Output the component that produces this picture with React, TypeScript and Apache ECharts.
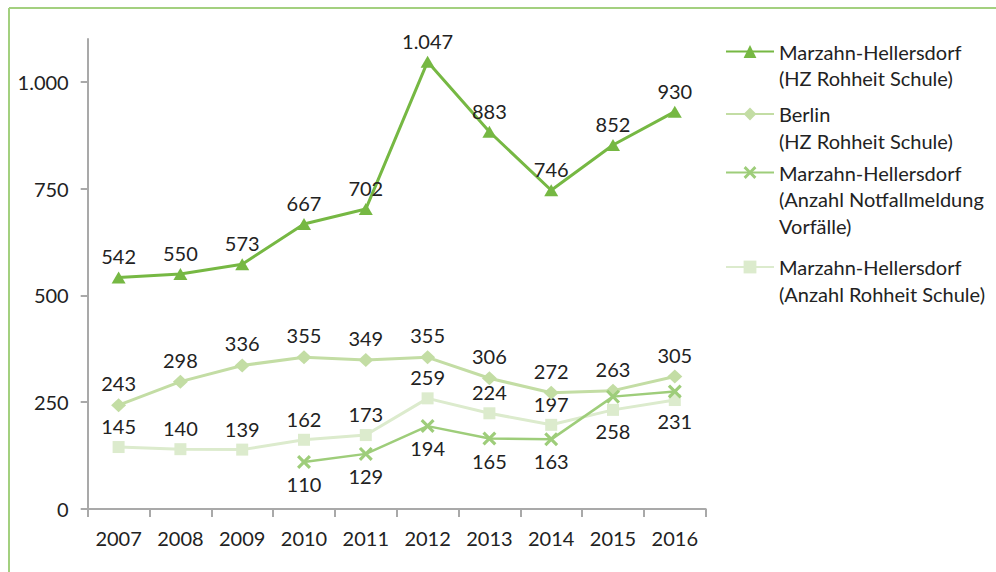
import React, { useEffect, useRef } from "react";
import * as echarts from "echarts";

const years = ["2007", "2008", "2009", "2010", "2011", "2012", "2013", "2014", "2015", "2016"];

const hzMarzahn = [542, 550, 573, 667, 702, 1047, 883, 746, 852, 930];
const hzBerlin = [243, 298, 336, 355, 349, 355, 306, 272, 277, 310];
const notfallMarzahn = [null, null, null, 110, 129, 194, 165, 163, 263, 275];
const rohheitMarzahn = [145, 140, 139, 162, 173, 259, 224, 197, 232, 255];

// label texts as printed in the reference (null = no label)
const hzBerlinLabels = ["243", "298", "336", "355", "349", "355", "306", "272", "263", "305"];
const notfallLabels = [null, null, null, "110", "129", "194", "165", "163", null, null];
const rohheitLabels = ["145", "140", "139", "162", "173", "259", "224", "197", "258", "231"];
const rohheitLabelPos = ["top", "top", "top", "top", "top", "top", "top", "top", "bottom", "bottom"];

const yTicks = [0, 250, 500, 750, 1000];

const seriesNames = [
  "Marzahn-Hellersdorf\n(HZ Rohheit Schule)",
  "Berlin\n(HZ Rohheit Schule)",
  "Marzahn-Hellersdorf\n(Anzahl Notfallmeldung\nVorfälle)",
  "Marzahn-Hellersdorf\n(Anzahl Rohheit Schule)",
];

const legendFirstLineY = [51.5, 114, 172.5, 267];

const FONT = "Lato";
const TEXT = "#222222";
const LH = 26.7;

const fmt = (v: number) => {
  const s = String(Math.round(v));
  return s.replace(/\B(?=(\d{3})+(?!\d))/g, ".");
};

const X_SYMBOL =
  "path://M0,1.6L1.6,0L5,3.4L8.4,0L10,1.6L6.6,5L10,8.4L8.4,10L5,6.6L1.6,10L0,8.4L3.4,5Z";

export default function App() {
  const ref = useRef<HTMLDivElement>(null);

  useEffect(() => {
    if (!ref.current) return;
    const chart = echarts.init(ref.current, undefined, { renderer: "svg" });

    const labelBase = { fontFamily: FONT, fontSize: 20, color: TEXT, distance: 5 };

    const legends = seriesNames.map((name, i) => {
      const n = name.split("\n").length;
      return {
        orient: "vertical",
        left: 725,
        top: legendFirstLineY[i] - (n - 1) * LH - LH / 2,
        padding: 0,
        itemWidth: 48,
        itemHeight: 16,
        data: [name],
        selectedMode: false,
        formatter: (nm: string) => "\n".repeat(nm.split("\n").length - 1) + nm,
        textStyle: {
          fontFamily: FONT,
          fontSize: 20,
          color: TEXT,
          lineHeight: LH,
        },
      };
    });

    const option = {
      animation: false,
      backgroundColor: "#ffffff",
      textStyle: { fontFamily: FONT },
      grid: { left: 87.7, right: 290.3, top: 39, bottom: 63, containLabel: false },
      legend: legends,
      graphic: [
        {
          type: "line",
          shape: { x1: 9, y1: 8, x2: 996, y2: 8 },
          style: { stroke: "#a3d07f", lineWidth: 2 },
        },
        {
          type: "line",
          shape: { x1: 9, y1: 8, x2: 9, y2: 572 },
          style: { stroke: "#a3d07f", lineWidth: 2 },
        },
      ],
      xAxis: {
        type: "category",
        data: years,
        boundaryGap: true,
        axisLine: { lineStyle: { color: "#a9a9a9", width: 2 } },
        axisTick: { show: true, length: 8, lineStyle: { color: "#a9a9a9", width: 2 } },
        axisLabel: { fontFamily: FONT, fontSize: 20, color: TEXT, margin: 19 },
        splitLine: { show: false },
      },
      yAxis: {
        type: "value",
        min: 0,
        max: 1100,
        interval: 250,
        axisLine: { show: true, lineStyle: { color: "#a9a9a9", width: 2 } },
        axisTick: {
          show: true,
          length: 7,
          customValues: yTicks,
          lineStyle: { color: "#a9a9a9", width: 2 },
        },
        axisLabel: {
          fontFamily: FONT,
          fontSize: 20,
          color: TEXT,
          margin: 19,
          customValues: yTicks,
          formatter: (v: number) => fmt(v),
        },
        splitLine: { show: false },
      },
      series: [
        {
          name: seriesNames[0],
          type: "line",
          data: hzMarzahn,
          symbol: "triangle",
          symbolSize: [14, 12],
          color: "#76b843",
          lineStyle: { color: "#76b843", width: 3 },
          itemStyle: { color: "#76b843" },
          label: { show: true, position: "top", ...labelBase, formatter: (p: any) => fmt(p.value) },
          z: 5,
        },
        {
          name: seriesNames[1],
          type: "line",
          data: hzBerlin.map((v, i) => ({
            value: v,
            label: { show: hzBerlinLabels[i] != null, formatter: hzBerlinLabels[i] ?? "" },
          })),
          symbol: "diamond",
          symbolSize: [15, 14],
          color: "#c3dda4",
          lineStyle: { color: "#c3dda4", width: 3 },
          itemStyle: { color: "#c3dda4" },
          label: { show: true, position: "top", ...labelBase },
          z: 3,
        },
        {
          name: seriesNames[2],
          type: "line",
          data: notfallMarzahn.map((v, i) => ({
            value: v,
            label: { show: notfallLabels[i] != null, formatter: notfallLabels[i] ?? "" },
          })),
          symbol: X_SYMBOL,
          symbolSize: 14,
          color: "#9ecd7a",
          lineStyle: { color: "#9ecd7a", width: 2.5 },
          itemStyle: { color: "#9ecd7a" },
          label: { show: true, position: "bottom", ...labelBase },
          z: 4,
        },
        {
          name: seriesNames[3],
          type: "line",
          data: rohheitMarzahn.map((v, i) => ({
            value: v,
            label: { show: true, position: rohheitLabelPos[i], formatter: rohheitLabels[i] },
          })),
          symbol: "rect",
          symbolSize: 12,
          color: "#dcebcd",
          lineStyle: { color: "#dcebcd", width: 3 },
          itemStyle: { color: "#dcebcd" },
          label: { show: true, position: "top", ...labelBase },
          z: 2,
        },
      ],
    };

    chart.setOption(option as any);
    return () => chart.dispose();
  }, []);

  return (
    <div
      ref={ref}
      style={{ position: "absolute", left: 0, top: 0, width: 996, height: 572, background: "#fff" }}
    />
  );
}
